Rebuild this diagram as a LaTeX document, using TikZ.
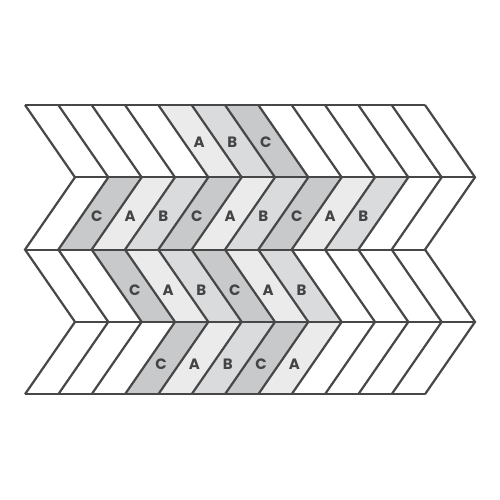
\documentclass[tikz,border=0pt]{standalone}
\usepackage{fontspec}
\setmainfont{Poppins}
\definecolor{edgeC}{HTML}{474747}
\definecolor{txtC}{HTML}{444444}
\definecolor{cA}{HTML}{EBEBEB}
\definecolor{cB}{HTML}{DADBDC}
\definecolor{cC}{HTML}{C8C9CA}
\tikzset{
  slatline/.style={draw=edgeC, line width=2.2pt},
  lab/.style={text=txtC, font=\fontsize{15}{15}\selectfont\bfseries, inner sep=0pt}
}
\begin{document}
\begin{tikzpicture}[x=1pt,y=-1pt]
\useasboundingbox (0,0) rectangle (500,500);
\def\H{72.3}
\def\W{33.3333}
% fills and labels: row/top offset/bottom offset/slat/colour/label/label y
\foreach \r/\t/\b/\k/\c/\lab/\ly in {
  0/25/75/4/cA/A/142, 0/25/75/5/cB/B/142, 0/25/75/6/cC/C/142,
  1/75/25/1/cC/C/216, 1/75/25/2/cA/A/216, 1/75/25/3/cB/B/216,
  1/75/25/4/cC/C/216, 1/75/25/5/cA/A/216, 1/75/25/6/cB/B/216,
  1/75/25/7/cC/C/216, 1/75/25/8/cA/A/216, 1/75/25/9/cB/B/216,
  2/25/75/2/cC/C/290, 2/25/75/3/cA/A/290, 2/25/75/4/cB/B/290,
  2/25/75/5/cC/C/290, 2/25/75/6/cA/A/290, 2/25/75/7/cB/B/290,
  3/75/25/3/cC/C/364, 3/75/25/4/cA/A/364, 3/75/25/5/cB/B/364,
  3/75/25/6/cC/C/364, 3/75/25/7/cA/A/364} {
  \pgfmathsetmacro\yt{105+\r*\H}
  \pgfmathsetmacro\yb{\yt+\H}
  \pgfmathsetmacro\xa{\t+\W*\k}
  \pgfmathsetmacro\xb{\t+\W*(\k+1)}
  \pgfmathsetmacro\xc{\b+\W*(\k+1)}
  \pgfmathsetmacro\xd{\b+\W*\k}
  \fill[\c] (\xa,\yt) -- (\xb,\yt) -- (\xc,\yb) -- (\xd,\yb) -- cycle;
  \pgfmathsetmacro\ff{(\ly-\yt)/\H}
  \pgfmathsetmacro\lx{\t+\W*\k+\W/2+(\b-\t)*\ff-1.5}
  \node[lab] (l\r-\k) at (\lx,\ly) {\lab};
}
% slanted zigzag lines
\foreach \k in {0,...,12} {
  \pgfmathsetmacro\xl{25+\W*\k}
  \pgfmathsetmacro\xr{75+\W*\k}
  \draw[slatline] (\xl,105) -- (\xr,105+\H) -- (\xl,105+2*\H) -- (\xr,105+3*\H) -- (\xl,105+4*\H);
}
% horizontal lines
\draw[slatline] (25,105) -- (425,105);
\draw[slatline] (75,105+\H) -- (475,105+\H);
\draw[slatline] (25,105+2*\H) -- (425,105+2*\H);
\draw[slatline] (75,105+3*\H) -- (475,105+3*\H);
\draw[slatline] (25,105+4*\H) -- (425,105+4*\H);
\end{tikzpicture}
\end{document}
